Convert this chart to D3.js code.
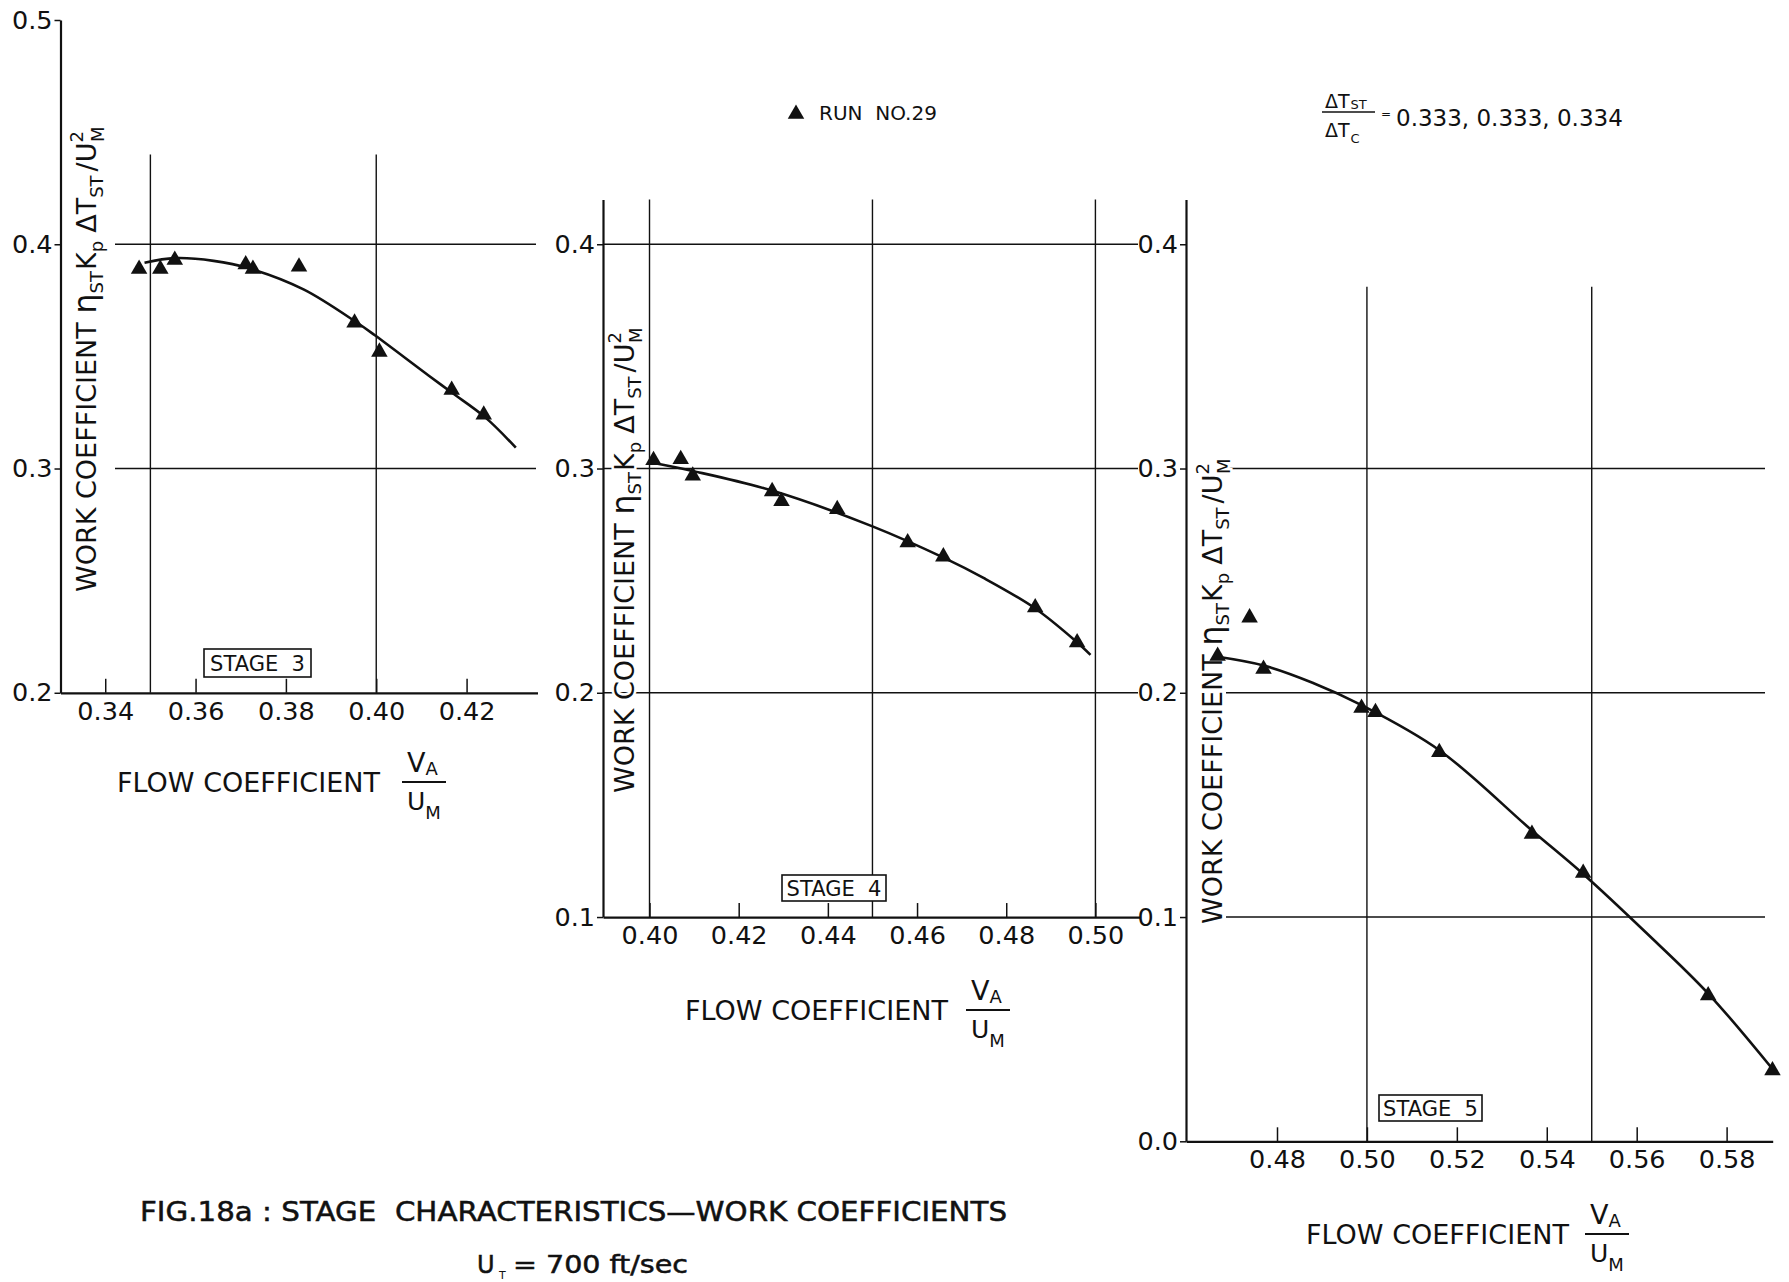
<!DOCTYPE html>
<html lang="en">
<head>
  <meta charset="UTF-8">
  <title>Stage Characteristics - Work Coefficients</title>
  <script src="https://d3js.org/d3.v7.min.js"></script>
  <style>
    html, body { margin: 0; padding: 0; background: #fff; }
    svg { display: block; }
    text { font-family: "DejaVu Sans", sans-serif; fill: #111; white-space: pre; }
  </style>
</head>
<body>

  <script>
    ((window, document) => {
      "use strict";

      /**
       * -----------------------------------------------------------------------
       *  Data
       * -----------------------------------------------------------------------
       */
      // Stage 3 - measured points and faired curve
      const stage3Flow = [0.3475, 0.3522, 0.3554, 0.3711, 0.3727, 0.3829, 0.3952, 0.4007, 0.4167, 0.4238];
      const stage3Work = [0.389, 0.389, 0.393, 0.391, 0.389, 0.390, 0.365, 0.352, 0.335, 0.324];
      const fit3Flow = [0.3487, 0.3554, 0.3640, 0.3720, 0.3839, 0.3957, 0.3997, 0.4115, 0.4167, 0.4242, 0.4309];
      const fit3Work = [0.3918, 0.3938, 0.3926, 0.3892, 0.3799, 0.3651, 0.3594, 0.3416, 0.3339, 0.3227, 0.3093];

      // Stage 4
      const stage4Flow = [0.4009, 0.4070, 0.4097, 0.4275, 0.4296, 0.4421, 0.4579, 0.4659, 0.4865, 0.4959];
      const stage4Work = [0.3037, 0.3041, 0.2968, 0.2898, 0.2854, 0.2818, 0.2670, 0.2607, 0.2380, 0.2224];
      const fit4Flow = [0.3998, 0.4097, 0.4269, 0.4500, 0.4663, 0.4749, 0.4865, 0.4955, 0.4989];
      const fit4Work = [0.3029, 0.2989, 0.2905, 0.2742, 0.2599, 0.2512, 0.2376, 0.2232, 0.2169];

      // Stage 5
      const stage5Flow = [0.4668, 0.4739, 0.4770, 0.4988, 0.5019, 0.5161, 0.5367, 0.5481, 0.5759, 0.5902];
      const stage5Work = [0.2164, 0.2335, 0.2106, 0.1932, 0.1913, 0.1735, 0.1370, 0.1196, 0.0650, 0.0316];
      const fit5Flow = [0.4668, 0.4770, 0.4879, 0.4988, 0.5161, 0.5367, 0.5481, 0.5620, 0.5759, 0.5903];
      const fit5Work = [0.2161, 0.2122, 0.2045, 0.1945, 0.1744, 0.1386, 0.1192, 0.0932, 0.0659, 0.0320];

      // Ticks
      const xTicks3 = [0.34, 0.36, 0.38, 0.40, 0.42];
      const xTicks4 = [0.40, 0.42, 0.44, 0.46, 0.48, 0.50];
      const xTicks5 = [0.48, 0.50, 0.52, 0.54, 0.56, 0.58];
      const yTicks3 = [0.2, 0.3, 0.4, 0.5];
      const yTicks4 = [0.1, 0.2, 0.3, 0.4];
      const yTicks5 = [0.0, 0.1, 0.2, 0.3, 0.4];

      const stageNames = ["STAGE\u00a0\u00a03", "STAGE\u00a0\u00a04", "STAGE\u00a0\u00a05"];
      const ratioValues = ["0.333", "0.333", "0.334"];


      /**
       * -----------------------------------------------------------------------
       *  Layout
       * -----------------------------------------------------------------------
       */
      const WIDTH = 1789;
      const HEIGHT = 1282;
      const INK = "#111";

      // every panel uses the same vertical mapping
      const yScale = d3.scaleLinear().domain([0, 0.5]).range([1141.3, 20]);

      const panels = [
        {
          name: stageNames[0], flow: stage3Flow, work: stage3Work, fitFlow: fit3Flow, fitWork: fit3Work,
          xDomain: [0.3301, 0.4357], xRange: [60.5, 537.5], yDomain: [0.2, 0.5],
          xTicks: xTicks3, yTicks: yTicks3,
          vGrid: [0.35, 0.40], vGridTop: 0.44, hGrid: [0.3, 0.4], hGridFrom: 115, hGridTo: 536,
          yLabel: [96, 592], xLabel: [117, 792], frac: [402, 782], box: [204, 649, 107, 28],
        },
        {
          name: stageNames[1], flow: stage4Flow, work: stage4Work, fitFlow: fit4Flow, fitWork: fit4Work,
          xDomain: [0.38957, 0.51], xRange: [603, 1140], yDomain: [0.1, 0.42],
          xTicks: xTicks4, yTicks: yTicks4,
          vGrid: [0.40, 0.45, 0.50], vGridTop: 0.42, hGrid: [0.2, 0.3, 0.4], hGridFrom: 603, hGridTo: 1138,
          yLabel: [634, 793], xLabel: [685, 1020], frac: [966, 1010], box: [782, 875, 104, 26],
        },
        {
          name: stageNames[2], flow: stage5Flow, work: stage5Work, fitFlow: fit5Flow, fitWork: fit5Work,
          xDomain: [0.45976, 0.59025], xRange: [1186, 1772.7], yDomain: [0.0, 0.42],
          xTicks: xTicks5, yTicks: yTicks5,
          vGrid: [0.50, 0.55], vGridTop: 0.381, hGrid: [0.1, 0.2, 0.3], hGridFrom: 1226, hGridTo: 1765,
          yLabel: [1222, 924], xLabel: [1306, 1244], frac: [1585, 1234], box: [1379, 1095, 103, 26],
        },
      ];


      /**
       * -----------------------------------------------------------------------
       *  Render
       * -----------------------------------------------------------------------
       */
      let svg = d3.select("body").append("svg")
          .attr("width", WIDTH)
          .attr("height", HEIGHT);

      svg.append("rect")
          .attr("width", WIDTH)
          .attr("height", HEIGHT)
          .attr("fill", "#fff");

      let triangle = d3.symbol().type(d3.symbolTriangle).size(118);

      panels.forEach(p => {
        let g = svg.append("g");
        let x = d3.scaleLinear().domain(p.xDomain).range(p.xRange);
        let y = d3.scaleLinear().domain(p.yDomain).range(p.yDomain.map(yScale));
        let yBottom = yScale(p.yDomain[0]);

        // grid
        g.selectAll("line.hgrid").data(p.hGrid).join("line")
            .attr("class", "hgrid")
            .attr("x1", p.hGridFrom)
            .attr("x2", p.hGridTo)
            .attr("y1", d => yScale(d))
            .attr("y2", d => yScale(d))
            .attr("stroke", INK)
            .attr("stroke-width", 1.4);
        g.selectAll("line.vgrid").data(p.vGrid).join("line")
            .attr("class", "vgrid")
            .attr("x1", d => x(d))
            .attr("x2", d => x(d))
            .attr("y1", yScale(p.vGridTop))
            .attr("y2", yBottom)
            .attr("stroke", INK)
            .attr("stroke-width", 1.4);

        // axes
        let xAxis = d3.axisBottom(x)
            .tickValues(p.xTicks)
            .tickFormat(d3.format(".2f"))
            .tickSize(-14)
            .tickSizeOuter(0)
            .tickPadding(9);
        let yAxis = d3.axisLeft(y)
            .tickValues(p.yTicks)
            .tickFormat(d3.format(".1f"))
            .tickSize(6)
            .tickSizeOuter(0)
            .tickPadding(2);

        let gx = g.append("g")
            .attr("transform", `translate(0,${yBottom})`)
            .call(xAxis);
        let gy = g.append("g")
            .attr("transform", `translate(${p.xRange[0]},0)`)
            .call(yAxis);
        [gx, gy].forEach(a => {
          a.attr("font-size", null).attr("font-family", null);
          a.select(".domain").attr("stroke", INK).attr("stroke-width", 2.2);
          a.selectAll(".tick line").attr("stroke", INK).attr("stroke-width", 1.5);
          a.selectAll(".tick text").attr("font-size", 25.5).attr("fill", INK);
        });

        // y axis title
        workLabel(g, p.yLabel[0], p.yLabel[1]);

        // x axis title
        flowLabel(g, p.xLabel, p.frac);

        // stage box
        let [bx, by, bw, bh] = p.box;
        g.append("rect")
            .attr("x", bx)
            .attr("y", by)
            .attr("width", bw)
            .attr("height", bh)
            .attr("fill", "#fff")
            .attr("stroke", INK)
            .attr("stroke-width", 1.6);
        g.append("text")
            .attr("x", bx + bw / 2)
            .attr("y", by + bh / 2 + 7.5)
            .attr("text-anchor", "middle")
            .attr("font-size", 21)
            .text(p.name);

        // faired curve
        let fit = p.fitFlow.map((f, i) => [f, p.fitWork[i]]);
        g.append("path")
            .datum(fit)
            .attr("fill", "none")
            .attr("stroke", INK)
            .attr("stroke-width", 2.6)
            .attr("d", d3.line()
                .x(d => x(d[0]))
                .y(d => y(d[1]))
                .curve(d3.curveCatmullRom.alpha(0.5)));

        // measured points
        let pts = p.flow.map((f, i) => [f, p.work[i]]);
        g.selectAll("path.pt").data(pts).join("path")
            .attr("class", "pt")
            .attr("d", triangle)
            .attr("fill", INK)
            .attr("transform", d => `translate(${x(d[0])},${y(d[1])})`);
      });

      // legend
      svg.append("path")
          .attr("d", triangle)
          .attr("fill", INK)
          .attr("transform", "translate(796,114)");
      svg.append("text")
          .attr("x", 819)
          .attr("y", 120)
          .attr("font-size", 20)
          .text("RUN  NO.29");

      // temperature rise split
      let ratio = svg.append("g");
      ratio.append("line")
          .attr("x1", 1322).attr("x2", 1375)
          .attr("y1", 112).attr("y2", 112)
          .attr("stroke", INK)
          .attr("stroke-width", 1.5);
      let num = ratio.append("text").attr("x", 1325).attr("y", 108).attr("font-size", 19);
      num.append("tspan").text("\u0394T");
      num.append("tspan").text("ST").attr("font-size", 13).attr("dx", 1).attr("dy", 1);
      let den = ratio.append("text").attr("x", 1325).attr("y", 137).attr("font-size", 19);
      den.append("tspan").text("\u0394T");
      den.append("tspan").text("C").attr("font-size", 13).attr("dx", 1).attr("dy", 6);
      ratio.append("text")
          .attr("x", 1381)
          .attr("y", 118)
          .attr("font-size", 12)
          .text("=");
      ratio.append("text")
          .attr("x", 1396)
          .attr("y", 126)
          .attr("font-size", 23)
          .text(ratioValues.join(", "));

      // caption
      svg.append("text")
          .attr("x", 140)
          .attr("y", 1221)
          .attr("font-size", 26)
          .attr("font-family", "'Liberation Sans Narrow', 'DejaVu Sans Condensed', 'DejaVu Sans', sans-serif")
          .attr("stroke", INK)
          .attr("stroke-width", 0.5)
          .attr("textLength", 867)
          .attr("lengthAdjust", "spacingAndGlyphs")
          .text("FIG.18a : STAGE  CHARACTERISTICS\u2014WORK COEFFICIENTS");
      let sub = svg.append("g")
          .attr("font-family", "'Liberation Sans Narrow', 'DejaVu Sans Condensed', 'DejaVu Sans', sans-serif");
      sub.append("text")
          .attr("x", 477)
          .attr("y", 1273)
          .attr("font-size", 24)
          .attr("stroke", INK)
          .attr("stroke-width", 0.5)
          .text("U");
      sub.append("text")
          .attr("x", 499)
          .attr("y", 1279)
          .attr("font-size", 11)
          .text("T");
      sub.append("text")
          .attr("x", 513)
          .attr("y", 1273)
          .attr("font-size", 24)
          .attr("stroke", INK)
          .attr("stroke-width", 0.5)
          .attr("textLength", 175)
          .attr("lengthAdjust", "spacingAndGlyphs")
          .text("= 700 ft/sec");


      /**
       * -----------------------------------------------------------------------
       *  Function
       * -----------------------------------------------------------------------
       */

      /**
       * Rotated work coefficient title, reading upward from (x, y)
       */
      function workLabel (g, x, y) {
        let t = g.append("text")
            .attr("transform", `translate(${x},${y}) rotate(-90)`)
            .attr("font-size", 27)
            .attr("stroke", "#fff")
            .attr("stroke-width", 5)
            .attr("paint-order", "stroke");
        t.append("tspan").text("WORK COEFFICIENT ");
        t.append("tspan").text("\u03b7").attr("font-size", 32);
        t.append("tspan").text("ST").attr("font-size", 18).attr("dy", 7);
        t.append("tspan").text("K").attr("dy", -7).attr("dx", 1);
        t.append("tspan").text("p").attr("font-size", 18).attr("dy", 7);
        t.append("tspan").text("\u0394T").attr("dy", -7).attr("dx", 8);
        t.append("tspan").text("ST").attr("font-size", 18).attr("dy", 7);
        t.append("tspan").text("/U").attr("dy", -7).attr("dx", 4);
        t.append("tspan").text("2").attr("font-size", 18).attr("dy", -13);
        t.append("tspan").text("M").attr("font-size", 18).attr("dx", -11).attr("dy", 21);
      }

      /**
       * Flow coefficient title with the V_A / U_M fraction
       */
      function flowLabel (g, pos, frac) {
        g.append("text")
            .attr("x", pos[0])
            .attr("y", pos[1])
            .attr("font-size", 27)
            .text("FLOW COEFFICIENT");
        let [fx, fy] = frac;
        g.append("line")
            .attr("x1", fx).attr("x2", fx + 44)
            .attr("y1", fy).attr("y2", fy)
            .attr("stroke", INK)
            .attr("stroke-width", 2);
        let top = g.append("text").attr("x", fx + 5).attr("y", fy - 10).attr("font-size", 27);
        top.append("tspan").text("V");
        top.append("tspan").text("A").attr("font-size", 18).attr("dy", 3);
        let bottom = g.append("text").attr("x", fx + 5).attr("y", fy + 28).attr("font-size", 25);
        bottom.append("tspan").text("U");
        bottom.append("tspan").text("M").attr("font-size", 18).attr("dy", 9);
      }

    })(window, document);
  </script>

</body>
</html>
